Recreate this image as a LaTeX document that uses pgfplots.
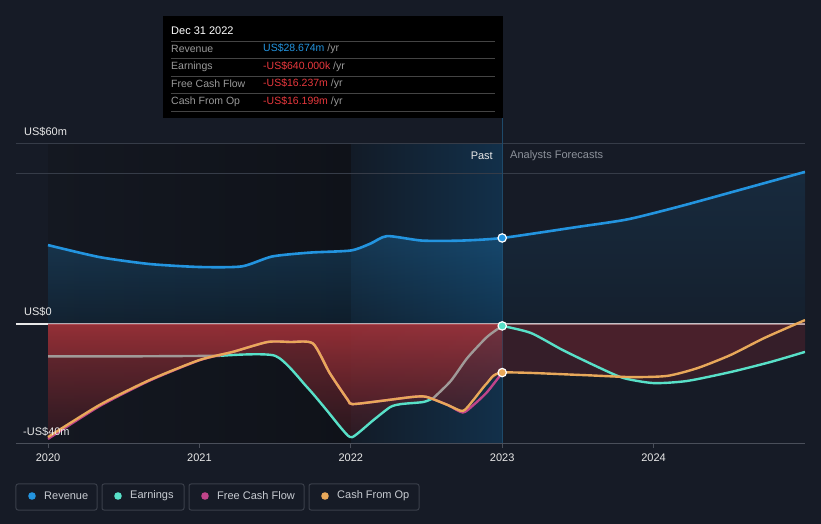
\documentclass[border=0pt]{standalone}
\usepackage{fontspec}
\setmainfont{Liberation Sans}
\usepackage{pgfplots}
\pgfplotsset{compat=1.18}
\definecolor{bg}{HTML}{161B26}
\definecolor{panelA}{HTML}{141821}
\definecolor{panelB}{HTML}{0F1219}
\definecolor{hlA}{HTML}{121B27}
\definecolor{hlB}{HTML}{12304A}
\definecolor{gridc}{HTML}{363C48}
\definecolor{axisc}{HTML}{4A4F5A}
\definecolor{vlinec}{HTML}{1E4A6A}
\definecolor{revc}{HTML}{2394DF}
\definecolor{earnc}{HTML}{58E0C8}
\definecolor{grayl}{HTML}{A09A98}
\definecolor{fcfc}{HTML}{C0448A}
\definecolor{cfoc}{HTML}{E8A85A}
\definecolor{redA}{HTML}{A8333A}
\definecolor{redB}{HTML}{3A1A22}
\definecolor{redF}{HTML}{6E2630}
\definecolor{txtw}{HTML}{E8E8E8}
\definecolor{txtg}{HTML}{8D929B}
\definecolor{ttred}{HTML}{E8383D}
\definecolor{ttgray}{HTML}{9A9A9A}
\definecolor{ttsep}{HTML}{444444}
\definecolor{legtxt}{HTML}{C8CCD2}
\definecolor{legbox}{HTML}{3A3F4A}
\begin{document}
\begin{tikzpicture}
\begin{scope}[shift={(-16pt,444pt)},x=1pt,y=-1pt]
\useasboundingbox (0,0) rectangle (821,524);
\fill[bg] (0,0) rectangle (821,524);
\shade[left color=panelA,right color=panelB] (48,144) rectangle (351,444);
\shade[left color=hlA,right color=hlB] (351,144) rectangle (502,444);
\draw[gridc,line width=1pt] (16,144) -- (805,144);
\draw[gridc,line width=1pt] (16,174) -- (805,174);
\draw[txtw,line width=1.2pt] (16,324) -- (805,324);
\draw[vlinec,line width=1pt] (502,118) -- (502,444);
\end{scope}
\begin{axis}[at={(0,0)},anchor=south west,scale only axis,
  width=789pt,height=300pt,
  xmin=2019.7885,xmax=2025.0,ymin=-40,ymax=60,
  axis y line=none, axis x line*=bottom,
  axis line style={draw=axisc,line width=1pt},
  xtick={2020,2021,2022,2023,2024},
  xticklabels={2020,2021,2022,2023,2024},
  xticklabel style={font=\fontsize{11}{13}\selectfont,text=txtw,yshift=-2pt},
  /pgf/number format/assume math mode=true,
  tick style={draw=axisc,line width=1pt},
  major tick length=4pt, tick align=outside,
  every axis plot/.append style={smooth,tension=0.4}]
% revenue fills
\addplot[draw=none,top color=revc,bottom color=revc!45!black,fill opacity=0.24] coordinates {
(2020.00,26.3)(2020.34,22.3)(2020.67,20.0)(2021.00,19.0)(2021.28,19.2)(2021.48,22.5)(2021.73,23.8)(2022.00,24.5)(2022.13,26.8)(2022.24,29.3)(2022.47,27.8)(2022.73,27.8)(2023.00,28.674)} \closedcycle;
\addplot[draw=none,top color=revc,bottom color=revc!45!black,fill opacity=0.13] coordinates {
(2023.00,28.674)(2023.49,32.3)(2023.83,34.9)(2024.18,39.3)(2024.57,44.7)(2025.00,50.7)} \closedcycle;
% red fills past
\addplot[draw=none,top color=redA,bottom color=redB,fill opacity=0.65] coordinates {
(2020.00,-37.7)(2020.34,-27.0)(2020.67,-18.7)(2021.00,-12.0)(2021.22,-9.3)(2021.45,-6.0)(2021.60,-6.0)(2021.75,-6.5)(2021.86,-16.3)(2021.98,-25.3)(2022.01,-26.7)(2022.19,-25.7)(2022.41,-24.3)(2022.50,-24.3)(2022.64,-27.0)(2022.74,-29.0)(2022.81,-25.3)(2022.90,-19.7)(2023.00,-16.2)} \closedcycle;
\addplot[draw=none,top color=redA,bottom color=redB,fill opacity=0.6] coordinates {
(2020.00,-10.8)(2020.50,-10.8)(2021.14,-10.6)(2021.50,-10.6)(2021.71,-21)(2021.84,-28.7)(2021.95,-35.5)(2022.01,-37.7)(2022.15,-32)(2022.26,-27.7)(2022.33,-26.7)(2022.48,-26)(2022.545,-24.7)(2022.66,-19)(2022.77,-11.3)(2022.90,-4.3)(2023.00,-0.64)} \closedcycle;
% red fills forecast
\addplot[draw=none,fill=redF,fill opacity=0.36] coordinates {
(2023.00,-16.2)(2023.52,-17.0)(2023.85,-17.7)(2024.09,-17.3)(2024.29,-14.7)(2024.51,-10.3)(2024.73,-4.7)(2025.00,1.3)} \closedcycle;
\addplot[draw=none,fill=redF,fill opacity=0.36] coordinates {
(2023.00,-0.64)(2023.19,-3)(2023.40,-8.7)(2023.63,-14.3)(2023.80,-18)(2024.00,-19.7)(2024.22,-19)(2024.51,-16)(2024.77,-12.7)(2025.00,-9.3)} \closedcycle;
% revenue line
\addplot[revc,line width=2.6pt] coordinates {
(2020.00,26.3)(2020.34,22.3)(2020.67,20.0)(2021.00,19.0)(2021.28,19.2)(2021.48,22.5)(2021.73,23.8)(2022.00,24.5)(2022.13,26.8)(2022.24,29.3)(2022.47,27.8)(2022.73,27.8)(2023.00,28.674)(2023.49,32.3)(2023.83,34.9)(2024.18,39.3)(2024.57,44.7)(2025.00,50.7)};
% earnings
\addplot[grayl,line width=2.4pt] coordinates {(2020.00,-10.8)(2020.50,-10.8)(2021.14,-10.6)};
\addplot[earnc,line width=2.4pt] coordinates {
(2021.14,-10.6)(2021.50,-10.6)(2021.71,-21)(2021.84,-28.7)(2021.95,-35.5)(2022.01,-37.7)(2022.15,-32)(2022.26,-27.7)(2022.33,-26.7)(2022.48,-26)(2022.545,-24.7)};
\addplot[grayl,line width=2.4pt] coordinates {(2022.545,-24.7)(2022.66,-19)(2022.77,-11.3)(2022.90,-4.3)(2023.00,-0.64)};
\addplot[earnc,line width=2.4pt] coordinates {
(2023.00,-0.64)(2023.19,-3)(2023.40,-8.7)(2023.63,-14.3)(2023.80,-18)(2024.00,-19.7)(2024.22,-19)(2024.51,-16)(2024.77,-12.7)(2025.00,-9.3)};
% free cash flow
\addplot[fcfc,line width=2.4pt] coordinates {
(2020.00,-38.3)(2020.34,-27.4)(2020.67,-18.9)(2021.00,-12.1)(2021.22,-9.3)(2021.45,-6.0)(2021.60,-6.0)(2021.75,-6.5)(2021.86,-16.3)(2021.98,-25.3)(2022.01,-26.7)(2022.19,-25.7)(2022.41,-24.3)(2022.50,-24.3)(2022.64,-27.0)(2022.74,-29.5)(2022.81,-27.0)(2022.90,-22.7)(2023.00,-16.237)};
% cash from op
\addplot[cfoc,line width=2.4pt] coordinates {
(2020.00,-37.7)(2020.34,-27.0)(2020.67,-18.7)(2021.00,-12.0)(2021.22,-9.3)(2021.45,-6.0)(2021.60,-6.0)(2021.75,-6.5)(2021.86,-16.3)(2021.98,-25.3)(2022.01,-26.7)(2022.19,-25.7)(2022.41,-24.3)(2022.50,-24.3)(2022.64,-27.0)(2022.74,-29.0)(2022.81,-25.3)(2022.90,-19.7)(2023.00,-16.199)(2023.52,-17.0)(2023.85,-17.7)(2024.09,-17.3)(2024.29,-14.7)(2024.51,-10.3)(2024.73,-4.7)(2025.00,1.3)};
% markers
\addplot[only marks,mark=*,mark size=4.2pt,mark options={fill=revc,draw=white,line width=1.2pt}] coordinates {(2023,28.674)};
\addplot[only marks,mark=*,mark size=4.2pt,mark options={fill=earnc,draw=white,line width=1.2pt}] coordinates {(2023,-0.64)};
\addplot[only marks,mark=*,mark size=4.2pt,mark options={fill=cfoc,draw=white,line width=1.2pt}] coordinates {(2023,-16.199)};
\end{axis}
\begin{scope}[shift={(-16pt,444pt)},x=1pt,y=-1pt,font=\fontsize{11}{13}\selectfont]
% y labels
\node[anchor=west,text=txtw,inner sep=0] at (24,132) {US\$60m};
\node[anchor=west,text=txtw,inner sep=0] at (24,312) {US\$0};
\node[anchor=west,text=txtw,inner sep=0] at (23,432) {-US\$40m};
% past / forecast
\node[anchor=east,text=txtw,inner sep=0] at (493,156) {Past};
\node[anchor=west,text=txtg,inner sep=0] at (510,156) {Analysts Forecasts};
% tooltip
\fill[black] (163,16) rectangle (503,118);
\node[anchor=west,text=white,inner sep=0] at (171,31) {Dec 31 2022};
\foreach \yy in {41,58,76,93,111} {\draw[ttsep,line width=0.8pt] (171,\yy) -- (495,\yy);}
\begin{scope}[font=\fontsize{10.5}{12}\selectfont]
\node[anchor=west,text=ttgray,inner sep=0] at (171,49) {Revenue};
\node[anchor=west,text=ttgray,inner sep=0] at (171,67) {Earnings};
\node[anchor=west,text=ttgray,inner sep=0] at (171,84) {Free Cash Flow};
\node[anchor=west,text=ttgray,inner sep=0] at (171,102) {Cash From Op};
\node[anchor=west,inner sep=0] at (263,49) {\textcolor{revc}{US\$28.674m} \textcolor{ttgray}{/yr}};
\node[anchor=west,inner sep=0] at (263,67) {\textcolor{ttred}{-US\$640.000k} \textcolor{ttgray}{/yr}};
\node[anchor=west,inner sep=0] at (263,84) {\textcolor{ttred}{-US\$16.237m} \textcolor{ttgray}{/yr}};
\node[anchor=west,inner sep=0] at (263,102) {\textcolor{ttred}{-US\$16.199m} \textcolor{ttgray}{/yr}};
\end{scope}
% legend
\draw[legbox,line width=1pt,rounded corners=2pt] (16,484) rectangle (97,510);
\draw[legbox,line width=1pt,rounded corners=2pt] (102,484) rectangle (184,510);
\draw[legbox,line width=1pt,rounded corners=2pt] (189,484) rectangle (304,510);
\draw[legbox,line width=1pt,rounded corners=2pt] (309,484) rectangle (419,510);
\fill[revc] (32,496) circle (3.8);
\fill[earnc] (118,496) circle (3.8);
\fill[fcfc] (205,496) circle (3.8);
\fill[cfoc] (325,496) circle (3.8);
\node[anchor=west,text=legtxt,inner sep=0] at (44,496) {Revenue};
\node[anchor=west,text=legtxt,inner sep=0] at (130,496) {Earnings};
\node[anchor=west,text=legtxt,inner sep=0] at (217,496) {Free Cash Flow};
\node[anchor=west,text=legtxt,inner sep=0] at (337,496) {Cash From Op};
\end{scope}
\end{tikzpicture}
\end{document}
